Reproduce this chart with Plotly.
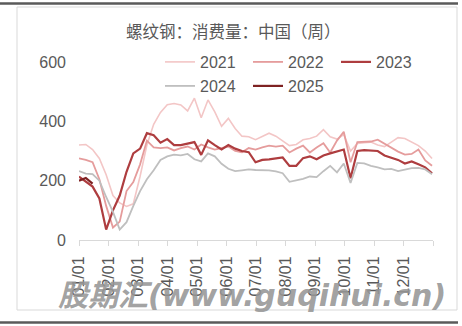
import plotly.graph_objects as go

# Weekly rebar consumption, China (10k t), one series per year
years = ["2021", "2022", "2023", "2024", "2025"]

cons_2021 = [320, 322, 305, 275, 220, 150, 125, 113, 122, 215, 320, 390, 430, 456, 460, 455,
             435, 478, 412, 472, 432, 383, 410, 376, 350, 348, 338, 350, 360, 350, 335, 318,
             322, 338, 342, 350, 372, 348, 340, 355, 300, 325, 328, 330, 320, 315, 330, 345,
             342, 330, 318, 300, 275]
cons_2022 = [275, 270, 262, 205, 115, 42, 62, 165, 195, 255, 335, 312, 310, 312, 302, 310,
             315, 305, 322, 312, 305, 310, 315, 300, 296, 310, 305, 312, 318, 315, 318, 295,
             308, 318, 295, 312, 326, 295, 335, 365, 262, 330, 330, 332, 338, 325, 310, 298,
             288, 290, 305, 268, 250]
cons_2023 = [214, 198, 180, 140, 35, 100, 150, 230, 292, 308, 360, 353, 328, 340, 320, 320,
             325, 330, 287, 336, 320, 305, 320, 308, 300, 296, 262, 270, 272, 276, 278, 250,
             250, 276, 282, 272, 285, 292, 298, 305, 208, 300, 303, 302, 300, 285, 278, 270,
             258, 265, 255, 245, 225]
cons_2024 = [232, 224, 222, 200, 145, 95, 35, 60, 115, 165, 205, 235, 270, 282, 288, 285,
             290, 272, 265, 292, 282, 257, 240, 232, 235, 238, 236, 236, 235, 231, 225, 196,
             200, 206, 214, 212, 232, 250, 228, 258, 192, 260, 258, 250, 245, 238, 240, 232,
             237, 242, 243, 238, 222]
cons_2025 = [200, 209, 190]

series = [cons_2021, cons_2022, cons_2023, cons_2024, cons_2025]

month_labels = ["01/01", "02/01", "03/01", "04/01", "05/01", "06/01",
                "07/01", "08/01", "09/01", "10/01", "11/01", "12/01"]
y_ticks = [0, 200, 400, 600]

colors = ["#F3C6C6", "#E59C9C", "#AE3D3F", "#BFBFBF", "#7E2222"]
widths = [1.6, 1.8, 2.2, 1.8, 2.2]
legend_ids = ["legend", "legend", "legend", "legend2", "legend2"]

TXT = "#595959"
LATIN = "Liberation Sans"
CJK = "Noto Sans CJK SC"


def week_positions(n):
    # weekly observations placed on a month-based axis (0 = Jan 1, 12 = year end)
    return [7 * i * 12 / 365 for i in range(n)]


fig = go.Figure()
for name, vals, col, w, lg in zip(years, series, colors, widths, legend_ids):
    fig.add_trace(go.Scatter(
        x=week_positions(len(vals)), y=vals, name=name, mode="lines",
        line=dict(color=col, width=w), legend=lg,
    ))

W, H = 462, 326
L, R, T, B = 79, 29, 62, 86
pw, ph = W - L - R, H - T - B


def px_x(x):
    return (x - L) / pw


def px_y(y):
    return (H - B - y) / ph


legend_common = dict(
    orientation="h", xref="container", yref="container",
    xanchor="left", yanchor="middle",
    entrywidth=43, entrywidthmode="pixels",
    font=dict(family=LATIN, size=16, color=TXT),
    bgcolor="rgba(0,0,0,0)", borderwidth=0,
)

fig.update_layout(
    width=W, height=H,
    margin=dict(l=L, r=R, t=T, b=B, pad=0, autoexpand=False),
    paper_bgcolor="white", plot_bgcolor="white",
    showlegend=True,
    title=dict(text="螺纹钢：消费量：中国（周）", x=0.505, xanchor="center",
               y=1 - 32 / H, yanchor="middle",
               font=dict(family=CJK, size=16.5, color=TXT)),
    legend=dict(x=160 / W, y=1 - 62 / H, **legend_common),
    legend2=dict(x=160 / W, y=1 - 86 / H, **legend_common),
    xaxis=dict(
        range=[0, 12], tickmode="array", tickvals=list(range(13)),
        ticktext=month_labels + [""], tickangle=-90,
        ticks="outside", ticklen=5, tickcolor="#D9D9D9", tickwidth=1,
        showline=True, linecolor="#D9D9D9", linewidth=1,
        showgrid=False, zeroline=False, ticklabelstandoff=4,
        tickfont=dict(family=LATIN, size=16, color=TXT),
    ),
    yaxis=dict(
        range=[0, 600], tickmode="array", tickvals=y_ticks,
        showline=False, showgrid=False, zeroline=False, ticks="",
        ticklabelstandoff=12,
        tickfont=dict(family=LATIN, size=16, color=TXT),
    ),
    shapes=[
        dict(type="rect", xref="paper", yref="paper", layer="below",
             x0=px_x(17), x1=px_x(457), y0=px_y(310), y1=px_y(7),
             line=dict(color="#D9D9D9", width=1)),
        dict(type="line", xref="paper", yref="paper",
             x0=px_x(0), x1=px_x(458), y0=px_y(3.5), y1=px_y(3.5),
             line=dict(color="#5A5A5A", width=2.5)),
        dict(type="line", xref="paper", yref="paper",
             x0=px_x(0), x1=px_x(458), y0=px_y(322.5), y1=px_y(322.5),
             line=dict(color="#5A5A5A", width=2.5)),
    ],
    annotations=[
        dict(text="股期汇(www.guqihui.cn)", xref="paper", yref="paper",
             x=px_x(252), y=px_y(295), xanchor="center", yanchor="middle",
             showarrow=False,
             font=dict(family="DejaVu Sans, Noto Sans CJK SC", size=30,
                       color="rgba(150,150,150,0.9)",
                       weight="bold", style="italic")),
    ],
)

fig.write_html("out.html")
